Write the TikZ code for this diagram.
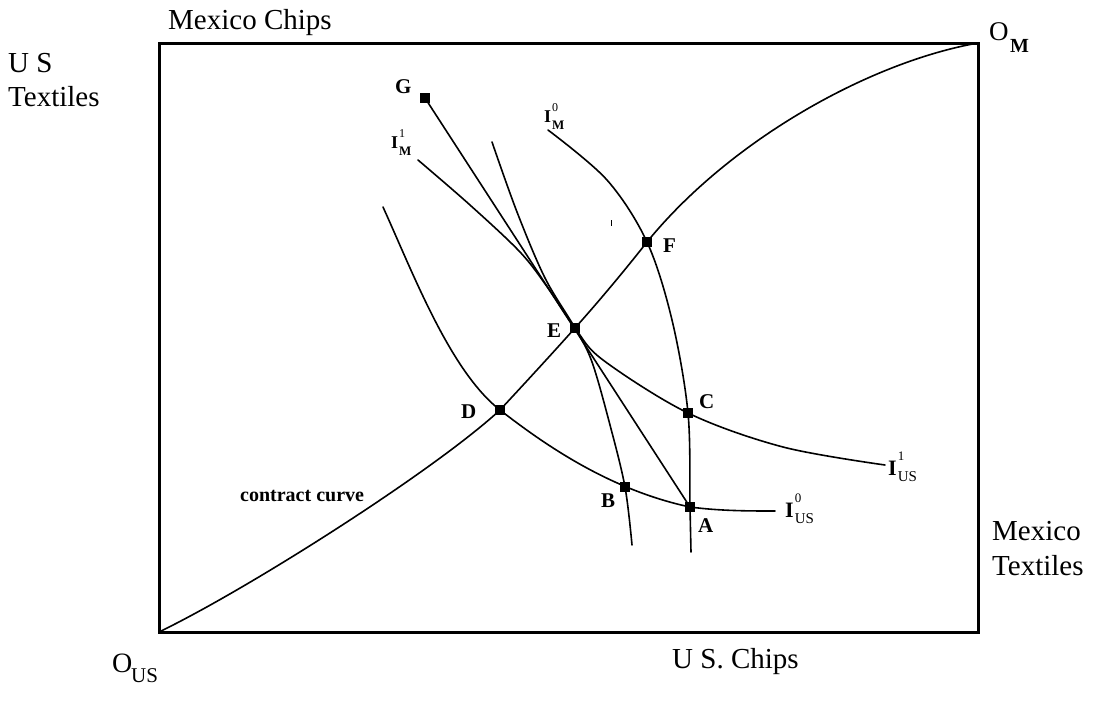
\documentclass[tikz,border=0pt]{standalone}
\usepackage{fontspec}
\setmainfont{Liberation Serif}
\newcommand{\IUS}[1]{{\bfseries\fontsize{22}{22}\selectfont I}\kern1pt\rlap{\raisebox{15pt}{\fontsize{13}{13}\selectfont #1}}\raisebox{-6pt}{\fontsize{15}{15}\selectfont US}}
\newcommand{\IMX}[1]{{\bfseries\fontsize{18}{18}\selectfont I}\kern1pt\rlap{\raisebox{11pt}{\fontsize{12}{12}\selectfont #1}}\raisebox{-7pt}{\bfseries\fontsize{13}{13}\selectfont M}}
\begin{document}
\begin{tikzpicture}[x=1pt,y=-1pt,
  frame/.style={line width=3pt},
  curve/.style={line width=1.6pt, line cap=round, line join=round},
  sqdot/.style={rectangle, fill=black, inner sep=0pt, minimum size=10pt},
  big/.style={font=\fontsize{29}{32}\selectfont, inner sep=0pt, anchor=base west},
  ptlab/.style={font=\bfseries\fontsize{21}{21}\selectfont, inner sep=0pt, anchor=base west},
  ilab/.style={inner sep=0pt, anchor=base west}
  ]
\useasboundingbox (0,0) rectangle (1101,702);
\coordinate (OUS) at (159,632);
\coordinate (OM) at (978,43);
\coordinate (A) at (690,507);
\coordinate (B) at (625,487);
\coordinate (C) at (688,413);
\coordinate (D) at (500,410);
\coordinate (E) at (575,328);
\coordinate (F) at (647,242);
\coordinate (G) at (425,98);
% box
\draw[frame] (OUS) rectangle (OM);
% contract curve
\draw[curve] (OUS) .. controls (250,588) and (435,470) .. (D)
  .. controls (525,383) and (550,356) .. (E)
  .. controls (600,300) and (625,270) .. (F)
  .. controls (730,140) and (870,62) .. (OM);
% price line
\draw[curve] (G) -- (A);
% I_US^0
\draw[curve] (383,207) .. controls (413,273) and (450,371) .. (D)
  .. controls (545,445) and (610,490) .. (A)
  .. controls (720,511) and (750,511) .. (775,511);
% I_M^0
\draw[curve] plot[smooth, tension=0.55] coordinates {(548,130) (607,180) (F) (672,320) (C) (A) (691,552)};
% curve from I_M^1 label through E and C
\draw[curve] plot[smooth, tension=0.55] coordinates {(418,160) (470,205) (520,252) (548,288) (E) (603,360) (C) (783,447) (885,465)};
% steep curve through E and B
\draw[curve] plot[smooth, tension=0.55] coordinates {(492,142) (517,212) (545,278) (E) (592,362) (610,425) (B) (632,545)};
% speck
\draw[line width=1pt] (611,220) -- (611,226);
% dots
\foreach \p in {A,B,C,D,E,F,G} \node[sqdot] (d\p) at (\p) {};
% point labels
\node[ptlab] (lG) at (395,93) {G};
\node[ptlab] (lF) at (663,252) {F};
\node[ptlab] (lE) at (547,337) {E};
\node[ptlab] (lD) at (461,418) {D};
\node[ptlab] (lC) at (699,408) {C};
\node[ptlab] (lB) at (601,507) {B};
\node[ptlab] (lA) at (698,532) {A};
% indifference labels
\node[ilab] (lIUS0) at (785,517) {\IUS{0}};
\node[ilab] (lIUS1) at (888,475) {\IUS{1}};
\node[ilab] (lIM1) at (391,148) {\IMX{1}};
\node[ilab] (lIM0) at (544,122) {\IMX{0}};
% axis labels
\node[big] (mexchips) at (168,29) {Mexico Chips};
\node[big] (us1) at (8,72) {U S};
\node[big] (us2) at (8,106) {Textiles};
\node[big] (mt1) at (992,540) {Mexico};
\node[big] (mt2) at (992,575) {Textiles};
\node[big] (uschips) at (672,668) {U S. Chips};
\node[ilab, font=\fontsize{28}{28}\selectfont] (ous) at (112,672) {O};
\node[ilab, font=\fontsize{21}{21}\selectfont] (ousS) at (131,682) {US};
\node[ilab, font=\fontsize{27}{27}\selectfont] (om) at (989,40) {O};
\node[ilab, font=\bfseries\fontsize{20}{20}\selectfont] (omS) at (1010,52) {M};
\node[ilab, font=\bfseries\fontsize{20}{20}\selectfont] (cc) at (240,501) {contract curve};
\end{tikzpicture}
\end{document}
